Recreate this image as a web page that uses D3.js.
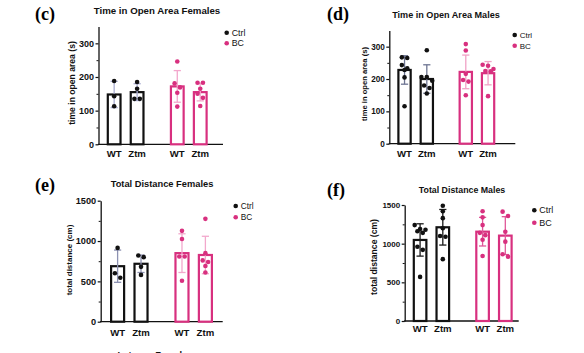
<!DOCTYPE html>
<html><head><meta charset="utf-8">
<script src="https://cdn.jsdelivr.net/npm/d3@7"></script>
<style>
body{margin:0;background:#fff}
svg{display:block}
</style>
</head><body>
<svg id="chart" width="584" height="353"></svg>
<script>
// ---------- DATA ----------
const groups = ["Ctrl", "BC"];
const genotypes = ["WT", "Ztm"];

// (c) Time in Open Area Females, seconds  [group][genotype]
const cPoints = [
  [[188, 143, 113], [185, 165, 135, 135]],
  [[246, 181, 169, 153, 112], [183, 183, 165, 150, 138, 114]]
];
const cMeans = [[148, 155], [172, 155]];
const cSD = [[39, 25], [47, 26]];

// (d) Time in Open Area Males, seconds
const dPoints = [
  [[267, 265, 243, 233, 228, 205, 116], [289, 206, 206, 195, 180, 172, 155]],
  [[308, 288, 216, 197, 192, 150], [244, 241, 231, 225, 224, 147]]
];
const dMeans = [[228, 200], [222, 218]];
const dSD = [[44, 44], [52, 36]];

// (e) Total Distance Females, cm
const ePoints = [
  [[915, 600, 545], [820, 800, 680, 580]],
  [[1126, 1026, 809, 809, 507], [1275, 850, 760, 740, 690, 610]]
];
const eMeans = [[688, 718], [850, 827]];
const eSD = [[200, 108], [240, 232]];

// (f) Total Distance Males, cm
const fPoints = [
  [[1240, 1190, 1180, 1160, 1140, 960, 920, 570], [1490, 1420, 1330, 1200, 1100, 1090, 800]],
  [[1420, 1340, 1240, 1140, 1110, 1050, 840], [1414, 1358, 1155, 1026, 863, 832]]
];
const fMeans = [[1048, 1212], [1155, 1104]];
const fSD = [[209, 230], [185, 245]];

const openAreaTicks = [0, 100, 200, 300];
const openAreaMinor = [50, 150, 250];
const distanceTicks = [0, 500, 1000, 1500];
const distanceMinor = [250, 750, 1250];

// ---------- STYLE / LAYOUT ----------
const BLACK = "#111111";
const PINK = "#d8307f";
const SANS = "'Liberation Sans',Arial,Helvetica,sans-serif";
const SERIF = "'Liberation Serif','Times New Roman',serif";

const panels = [
  { tag: "(c)", title: "Time in Open Area Females", ylab: "time in open area (s)",
    points: cPoints, means: cMeans, sds: cSD, ticks: openAreaTicks, minor: openAreaMinor, yMax: 350,
    x0: 98.5, axisLen: 124.5, gOff: 8.2, gSpan: 101, yBase: 144.3, yTop: 26.5,
    tagX: 35, tagY: 19.7, titleX: 157, titleY: 14, titleSize: 9.7,
    ylabX: 75, ylabY: 83, ylabSize: 8.6, tickSize: 9, xlabY: 157, xlabSize: 9.6,
    legX: 226.7, legY: 32.7, legDy: 10.6, legSize: 8.8,
    errC: ["#a9acd0", "#f3a7cc"] },
  { tag: "(d)", title: "Time in Open Area Males", ylab: "time in open area (s)",
    points: dPoints, means: dMeans, sds: dSD, ticks: openAreaTicks, minor: openAreaMinor, yMax: 350,
    x0: 389.3, axisLen: 126, gOff: 8, gSpan: 98, yBase: 143.7, yTop: 30.5,
    tagX: 327, tagY: 20.3, titleX: 446, titleY: 18, titleSize: 9.1,
    ylabX: 367, ylabY: 84, ylabSize: 7.6, tickSize: 8.2, xlabY: 157, xlabSize: 9.6,
    legX: 514.7, legY: 35, legDy: 10.7, legSize: 8,
    errC: ["#6e7592", "#f0a2c6"] },
  { tag: "(e)", title: "Total Distance Females", ylab: "total distance (cm)",
    points: ePoints, means: eMeans, sds: eSD, ticks: distanceTicks, minor: distanceMinor, yMax: 1500,
    x0: 100.7, axisLen: 122, gOff: 9.3, gSpan: 103, yBase: 321.7, yTop: 200.7,
    tagX: 35, tagY: 190.5, titleX: 162, titleY: 186.5, titleSize: 9.3,
    ylabX: 72, ylabY: 260, ylabSize: 8, tickSize: 9.2, xlabY: 336, xlabSize: 9.6,
    legX: 235.7, legY: 206, legDy: 11.3, legSize: 8.3,
    errC: ["#8d92b2", "#f2a8cc"] },
  { tag: "(f)", title: "Total Distance Males", ylab: "total distance (cm)",
    points: fPoints, means: fMeans, sds: fSD, ticks: distanceTicks, minor: distanceMinor, yMax: 1500,
    x0: 404.7, axisLen: 114, gOff: 8, gSpan: 100, yBase: 321, yTop: 205,
    tagX: 327, tagY: 195.5, titleX: 462, titleY: 192.5, titleSize: 8.8,
    ylabX: 377, ylabY: 257, ylabSize: 8.6, tickSize: 8, xlabY: 332, xlabSize: 9.6,
    legX: 534.3, legY: 210.3, legDy: 12.4, legSize: 9,
    errC: ["#1a1a1a", "#e0589a"] }
];

const svg = d3.select("#chart");
svg.append("rect").attr("width", 584).attr("height", 353).attr("fill", "#fff");

function swarm(vals, y, cx, r) {
  // deterministic row-based spreading of points with near-equal values
  const sorted = vals.map(v => ({ v, py: y(v) })).sort((a, b) => a.py - b.py);
  const rows = [];
  sorted.forEach(p => {
    const last = rows[rows.length - 1];
    if (last && p.py - last[0].py < 2 * r + 0.2) last.push(p); else rows.push([p]);
  });
  const out = [];
  const sp = 2 * r + 0.8;
  rows.forEach(row => row.forEach((p, i) => out.push({ x: cx + (i - (row.length - 1) / 2) * sp, y: p.py })));
  return out;
}

panels.forEach(P => {
  const g = svg.append("g");
  const y = d3.scaleLinear().domain([0, P.yMax]).range([P.yBase, P.yTop]);
  const outer = d3.scaleBand().domain(groups).range([P.x0 + P.gOff, P.x0 + P.gOff + P.gSpan]).paddingInner(0.4);
  const inner = d3.scaleBand().domain(genotypes).range([0, outer.bandwidth()]).paddingInner(0.35);
  const sw = 2.2;

  // panel tag
  g.append("text").attr("x", P.tagX).attr("y", P.tagY).text(P.tag)
    .style("font-family", SERIF).style("font-weight", "bold")
    .style("font-size", "18px").attr("fill", "#000");
  // title
  g.append("text").attr("x", P.titleX).attr("y", P.titleY).attr("text-anchor", "middle")
    .style("font-family", SANS).style("font-weight", "bold").style("font-size", P.titleSize + "px")
    .attr("fill", "#111").text(P.title);

  // y axis
  const ax = g.append("g").attr("transform", `translate(${P.x0},0)`)
    .call(d3.axisLeft(y).tickValues(P.ticks).tickSize(3).tickSizeOuter(0).tickPadding(1.5).tickFormat(d3.format("d")));
  ax.select(".domain").attr("stroke", BLACK).attr("stroke-width", 1.3);
  ax.selectAll(".tick line").attr("stroke", BLACK).attr("stroke-width", 1.2);
  ax.selectAll(".tick text").style("font-size", P.tickSize + "px").style("font-weight", "bold")
    .style("font-family", SANS).attr("fill", "#111");
  const mx = g.append("g").attr("transform", `translate(${P.x0},0)`)
    .call(d3.axisLeft(y).tickValues(P.minor).tickSize(2).tickSizeOuter(0).tickFormat(""));
  mx.select(".domain").remove();
  mx.selectAll(".tick line").attr("stroke", BLACK).attr("stroke-width", 1);

  // x axis line
  g.append("line").attr("x1", P.x0 - 0.6).attr("x2", P.x0 + P.axisLen).attr("y1", y(0)).attr("y2", y(0))
    .attr("stroke", BLACK).attr("stroke-width", 1.3);

  // y label
  g.append("text").attr("transform", `translate(${P.ylabX},${P.ylabY}) rotate(-90)`)
    .attr("text-anchor", "middle").style("font-family", SANS).style("font-weight", "bold")
    .style("font-size", P.ylabSize + "px").attr("fill", "#111").text(P.ylab);

  groups.forEach((grp, gi) => {
    const col = gi === 0 ? BLACK : PINK;
    genotypes.forEach((gen, ki) => {
      const bx = outer(grp) + inner(gen);
      const bw = inner.bandwidth();
      const cx = bx + bw / 2;
      const m = P.means[gi][ki], s = P.sds[gi][ki];
      // bar
      g.append("rect").attr("x", bx + sw / 2).attr("y", y(m)).attr("width", bw - sw)
        .attr("height", y(0) - y(m)).attr("fill", "#fff").attr("stroke", col).attr("stroke-width", sw);
      // error bar
      const ec = P.errC[gi];
      const cap = 3.6;
      g.append("line").attr("x1", cx).attr("x2", cx).attr("y1", y(m + s)).attr("y2", y(m - s))
        .attr("stroke", ec).attr("stroke-width", 1.3);
      [m + s, m - s].forEach(v => g.append("line").attr("x1", cx - cap).attr("x2", cx + cap)
        .attr("y1", y(v)).attr("y2", y(v)).attr("stroke", ec).attr("stroke-width", 1.3));
      // points
      swarm(P.points[gi][ki], y, cx, 2.3).forEach(p =>
        g.append("circle").attr("cx", p.x).attr("cy", p.y).attr("r", 2.3).attr("fill", col));
      // x label
      g.append("text").attr("x", cx).attr("y", P.xlabY).attr("text-anchor", "middle")
        .style("font-family", SANS).style("font-weight", "bold").style("font-size", P.xlabSize + "px")
        .attr("fill", "#111").text(gen);
    });
    // legend
    g.append("circle").attr("cx", P.legX).attr("cy", P.legY + gi * P.legDy).attr("r", 2.3).attr("fill", col);
    g.append("text").attr("x", P.legX + 5).attr("y", P.legY + gi * P.legDy).attr("dy", "0.35em")
      .style("font-family", SANS).style("font-size", P.legSize + "px").attr("fill", "#111").text(grp);
  });
});

// heading of the next panel, cut by the bottom edge as in the reference
svg.append("text").attr("x", 155).attr("y", 358).attr("text-anchor", "middle")
  .style("font-family", SANS).style("font-weight", "bold").style("font-size", "9.3px")
  .attr("fill", "#111").text("Latency Females");
</script>
</body></html>
